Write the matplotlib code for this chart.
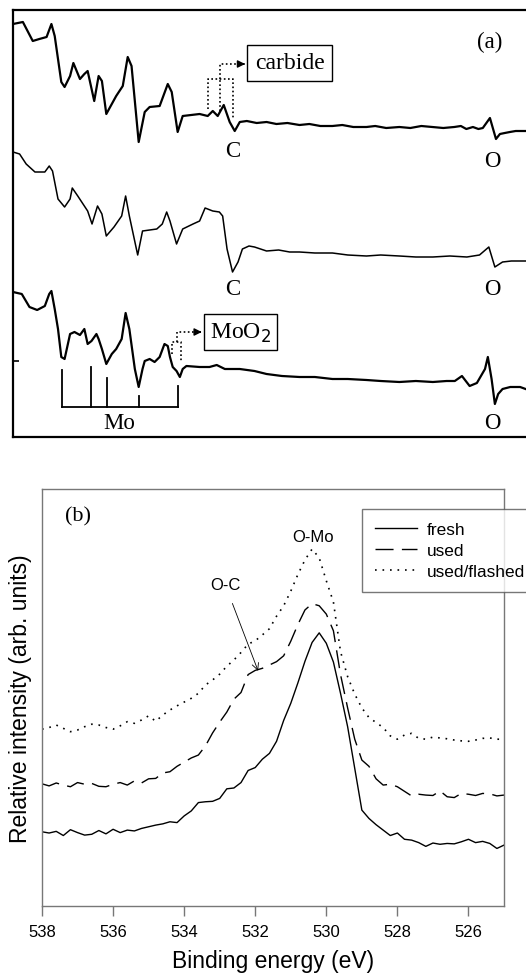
import matplotlib
matplotlib.use('Agg')
import matplotlib.pyplot as plt

# ---- panel (a): AES spectra (kinetic energy, eV) ----
top_ev = [70, 79, 88, 94, 100.6, 105, 108, 114, 117, 122, 125, 131, 135, 138, 144, 148, 151, 155,
          164, 170, 174.5, 178, 184.5, 190, 194.5, 203.6, 211, 214.6, 220, 224.6, 240, 247.4, 252,
          256.5, 262, 267.4, 272, 276.6, 283, 292, 301, 310, 320, 331, 340, 350, 361, 370, 380, 392,
          400, 410, 422, 432, 442, 452, 462, 472, 478, 483, 489, 494, 498, 504.5, 510, 513.6, 518,
          522.7, 528, 533.6, 537.3]
top_int = [413, 415, 396, 398, 400, 413, 401, 355, 350, 361, 374, 358, 363, 366, 336, 361, 356, 323,
           341, 351, 380, 371, 295, 325, 330, 331, 353, 345, 305, 321, 323, 321, 326,
           321, 332, 315, 306, 315, 316, 314, 315, 313, 314, 312, 313, 311, 311, 312, 310, 310,
           311, 309, 310, 309, 311, 310, 309, 310, 311, 308, 310, 308, 309, 319, 298, 303, 304,
           305, 306, 306, 306]

mid_ev = [70, 76, 82, 90, 99, 103, 106, 111, 117, 122, 124, 129, 135, 138, 142, 147, 151, 155, 162,
          169, 172.6, 176, 183.6, 188, 201, 206, 210, 213, 219, 224.6, 234, 240, 245, 252, 258, 261,
          265, 270, 275, 279, 285, 290, 301, 312, 322, 331, 345, 361, 375, 392, 405, 422, 437,
          452.5, 468, 483.5, 495, 503.5, 509, 516, 524, 533.6, 537]
mid_int = [285, 283, 273, 265, 265, 271, 266, 238, 230, 238, 249, 241, 231, 226, 213, 231, 223, 201, 210,
           221, 241, 221, 182, 206, 208, 213, 225, 216, 193, 208, 213, 216, 229, 226, 225, 221,
           188, 165, 175, 188, 191, 190, 186, 187, 185, 185, 184, 184, 182, 181, 182, 181, 180,
           180, 181, 180, 182, 190, 170, 175, 176, 176, 176]

bot_ev = [70, 78, 85, 92, 99, 103, 105, 108, 111, 114, 117, 122, 126, 131, 135, 138, 141.5, 146, 148,
          151, 155, 160, 164, 169, 172.6, 176, 181, 184.5, 188, 190, 194.5, 199, 203.6, 208, 211,
          213, 215.5, 219, 222, 224.6, 228, 240, 249, 255.6, 263, 276.6, 290, 301, 315, 331, 345,
          361, 375, 392, 405, 422, 437, 452.5, 465, 472.5, 479, 486, 492.6, 500, 502.6, 506, 509,
          512, 516, 523, 532, 537]
bot_int = [145, 143, 130, 127, 131, 143, 146, 128, 108, 80, 78, 103, 105, 102, 108, 93, 96, 103, 98,
           88, 73, 83, 88, 98, 124, 108, 68, 50, 68, 76, 78, 75, 80, 93, 91,
           80, 70, 66, 60, 68, 71, 70, 70, 72, 68, 68, 66, 63, 61, 60, 60,
           58, 58, 57, 56, 55, 56, 55, 56, 56, 61, 51, 54, 68, 80, 58, 33,
           43, 48, 50, 50, 48]

mo_lines = [115, 141, 156, 185, 220]
mo_tops = [67, 70, 59, 41, 51]

# ---- panel (b): O 1s XPS (binding energy, eV) ----
be = [538.0, 537.8, 537.6, 537.4, 537.2, 537.0, 536.8, 536.6, 536.4, 536.2, 536.0, 535.8, 535.6,
      535.4, 535.2, 535.0, 534.8, 534.6, 534.4, 534.2, 534.0, 533.8, 533.6, 533.4, 533.2, 533.0,
      532.8, 532.6, 532.4, 532.2, 532.0, 531.8, 531.6, 531.4, 531.2, 531.0, 530.8, 530.6, 530.4,
      530.2, 530.0, 529.8, 529.6, 529.4, 529.2, 529.0, 528.8, 528.6, 528.4, 528.2, 528.0, 527.8,
      527.6, 527.4, 527.2, 527.0, 526.8, 526.6, 526.4, 526.2, 526.0, 525.8, 525.6, 525.4, 525.2,
      525.0]
fresh = [17.8, 17.5, 17.9, 16.9, 18.3, 17.6, 17.0, 17.2, 18.1, 17.3, 18.4, 17.6, 18.2,
         18.0, 18.6, 19.0, 19.4, 19.7, 20.2, 20.0, 21.6, 22.8, 24.8, 25.0, 25.1, 25.8,
         28.1, 28.3, 29.6, 32.5, 33.2, 35.2, 36.6, 39.5, 44.5, 48.6, 53.5, 58.7, 63.2,
         65.5, 63.0, 58.5, 51.0, 43.0, 33.0, 23.0, 21.0, 19.5, 18.2, 16.9, 17.5, 16.0,
         15.8, 15.2, 14.3, 15.1, 14.8, 15.0, 14.9, 15.4, 16.0, 15.2, 15.5, 15.0, 13.8,
         14.6]
used = [29.3, 28.8, 29.5, 29.0, 28.6, 29.6, 29.2, 29.4, 28.7, 28.6, 29.2, 29.6, 29.0,
        30.0, 29.5, 30.5, 30.6, 31.9, 32.2, 33.5, 34.5, 35.5, 36.2, 38.4, 41.5, 44.1,
        46.5, 49.6, 51.2, 55.5, 56.5, 57.0, 57.8, 58.6, 60.0, 63.5, 67.5, 71.0, 72.5,
        72.0, 70.0, 66.0, 55.5, 47.5, 40.0, 35.0, 33.5, 30.5, 29.0, 29.2, 28.6, 27.5,
        26.4, 26.8, 26.6, 26.5, 27.6, 26.2, 26.0, 27.0, 26.8, 26.5, 27.0, 26.9, 26.4,
        26.6]
flashed = [42.4, 42.8, 43.4, 42.6, 41.8, 42.2, 43.0, 43.6, 43.4, 42.8, 42.4, 43.2, 44.2,
           43.8, 44.6, 45.6, 44.3, 45.8, 47.0, 48.0, 48.9, 49.8, 51.0, 53.0, 54.2, 55.6,
           57.5, 59.0, 60.8, 62.8, 63.6, 65.0, 66.5, 69.5, 72.0, 75.5, 79.5, 83.0, 85.6,
           83.5, 78.0, 72.9, 61.0, 55.0, 50.8, 47.5, 45.2, 44.0, 42.8, 40.8, 40.0, 41.0,
           41.4, 40.2, 40.0, 40.5, 40.3, 40.1, 39.8, 39.6, 39.5, 39.8, 40.2, 40.3, 40.0,
           40.0]
be_ticks = [538, 536, 534, 532, 530, 528, 526]

W, H = 526, 979
fig = plt.figure(figsize=(W / 100, H / 100), dpi=100)

serif = ['Liberation Serif', 'DejaVu Serif']
sans = ['Liberation Sans', 'DejaVu Sans']

# ---------- (a) ----------
ax = fig.add_axes([13 / W, 1 - 438 / H, 517 / W, 427 / H])
ax.plot(top_ev, top_int, color='k', lw=1.6)
ax.plot(mid_ev, mid_int, color='k', lw=1.1)
ax.plot(bot_ev, bot_int, color='k', lw=1.6)
ax.set_xlim(70, 541)
ax.set_ylim(0, 427)
for s in ax.spines.values():
    s.set_linewidth(1.6)
ax.set_xticks([])
ax.set_yticks([76])
ax.set_yticklabels([])
ax.tick_params(axis='y', direction='in', length=4, width=1.2)

# Mo markers
ax.plot([mo_lines[0], mo_lines[-1]], [30, 30], color='k', lw=1.3)
for x, t in zip(mo_lines, mo_tops):
    ax.plot([x, x], [30, t], color='k', lw=1.3)

tkw = dict(family=serif, fontsize=16.5, ha='center', va='center')
ax.text(167, 14, 'Mo', **tkw)
ax.text(270, 286, 'C', **tkw)
ax.text(507, 276, 'O', **tkw)
ax.text(270, 148, 'C', **tkw)
ax.text(507, 148, 'O', **tkw)
ax.text(507, 14, 'O', **tkw)
ax.text(504, 396, '(a)', **tkw)

# carbide bracket
dot = dict(color='k', lw=1.2, ls=(0, (1, 1.5)))
ax.plot([247.4, 247.4, 270, 270], [328, 358, 358, 318], **dot)
ax.plot([258.3, 258.3], [326, 358], **dot)
ax.plot([258.3, 258.3, 278], [358, 373, 373], **dot)
ax.annotate('', xy=(284, 373), xytext=(277, 373),
            arrowprops=dict(arrowstyle='-|>', color='k', lw=1, mutation_scale=11))
ax.text(322, 374, 'carbide', family=serif, fontsize=17, ha='center', va='center',
        bbox=dict(boxstyle='square,pad=0.33', fc='white', ec='k', lw=1))

# MoO2 bracket
ax.plot([215, 215, 223.4, 223.4], [83, 95, 95, 76], **dot)
ax.plot([219, 219, 238], [95, 105, 105], **dot)
ax.annotate('', xy=(244.5, 105), xytext=(237, 105),
            arrowprops=dict(arrowstyle='-|>', color='k', lw=1, mutation_scale=11))
ax.text(277, 105, 'MoO$_2$', family=serif, fontsize=17, ha='center', va='center',
        bbox=dict(boxstyle='square,pad=0.25', fc='white', ec='k', lw=1))

# ---------- (b) ----------
bx = fig.add_axes([42 / W, 1 - 907 / H, 462 / W, 417 / H])
bx.plot(be, fresh, color='k', lw=1.0, label='fresh')
bx.plot(be, used, color='k', lw=1.0, ls=(0, (13, 6)), label='used')
bx.plot(be, flashed, color='k', lw=1.2, ls=(0, (1, 3.5)), label='used/flashed')
bx.set_xlim(538, 525)
bx.set_ylim(0, 100)
bx.set_xticks(be_ticks)
bx.set_xticklabels([str(t) for t in be_ticks], family=sans, fontsize=12)
bx.set_yticks([])
bx.tick_params(axis='x', direction='out', length=7, width=1, color='#777777', pad=6)
for s in bx.spines.values():
    s.set_color('#777777')
    s.set_linewidth(1)
bx.set_xlabel('Binding energy (eV)', family=sans, fontsize=16.5, labelpad=7)
bx.set_ylabel('Relative intensity (arb. units)', family=sans, fontsize=16.5, labelpad=7)

bx.text(537.0, 93.5, '(b)', family=serif, fontsize=16, ha='center', va='center')
bx.text(530.37, 88.5, 'O-Mo', family=sans, fontsize=12, ha='center', va='center')
bx.annotate('O-C', xy=(531.92, 56.4), xytext=(532.85, 77.2), family=sans, fontsize=12,
            ha='center', va='center',
            arrowprops=dict(arrowstyle='->', color='k', lw=0.6, shrinkA=7, shrinkB=0))

leg = bx.legend(loc='upper left', bbox_to_anchor=(362 / W, 1 - 510 / H),
                bbox_transform=fig.transFigure, borderaxespad=0, fancybox=False,
                edgecolor='#555555', prop={'family': sans, 'size': 12.4},
                handlelength=2.45, handletextpad=0.55, labelspacing=0.34, borderpad=0.75)
leg.get_frame().set_linewidth(1)

fig.savefig('out.png', dpi=100)
